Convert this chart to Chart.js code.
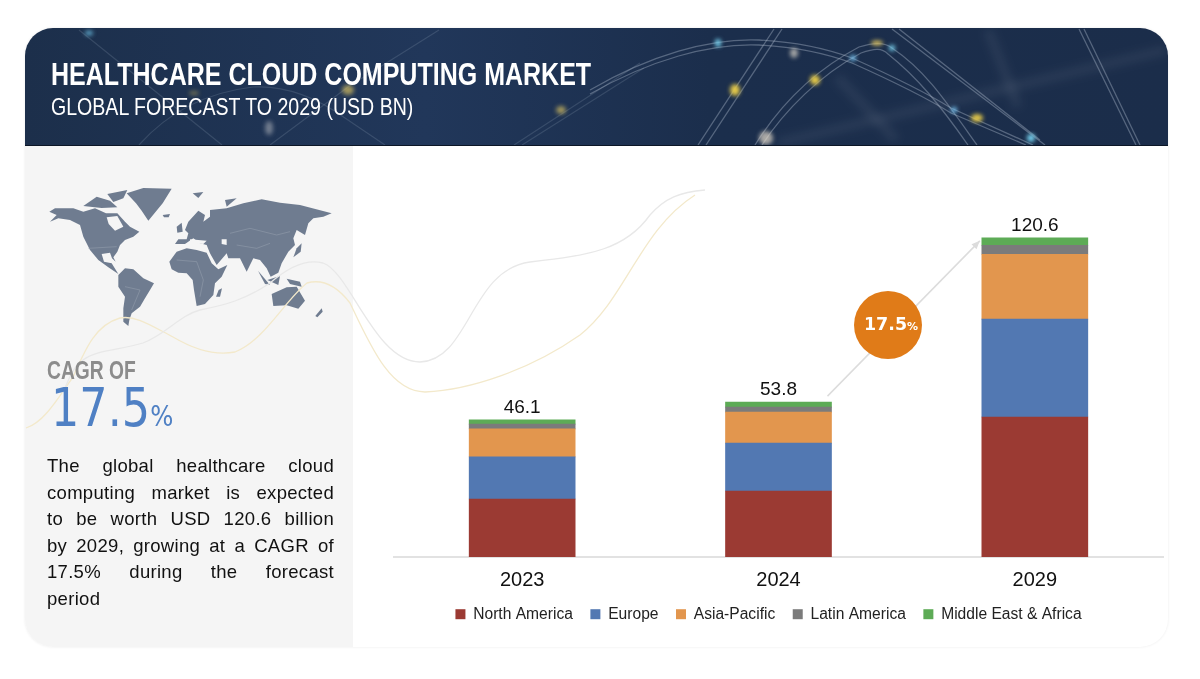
<!DOCTYPE html>
<html>
<head>
<meta charset="utf-8">
<title>Healthcare Cloud Computing Market</title>
<script src="https://cdn.jsdelivr.net/npm/chart.js@4"></script>
<style>
  html, body { margin: 0; padding: 0; background: #fff; }
  #page { position: relative; width: 1200px; height: 679px; overflow: hidden; background: #fff; font-family: "Liberation Sans", Arial, sans-serif; }
  #card { position: absolute; left: 25px; top: 28px; width: 1143px; height: 619px; border-radius: 28px; overflow: hidden; background: #fff; box-shadow: 0 0 3px rgba(0,0,0,0.08); }
  #panel { position: absolute; left: 0; top: 118px; width: 328px; height: 501px; background: #f5f5f5; }
  #head { position: absolute; left: 0; top: 0; width: 1143px; height: 117px; background: linear-gradient(90deg, #1c2f4b 0%, #21375a 35%, #1b2e4c 60%, #1b2d4a 100%); border-bottom: 1px solid #0c1626; }
  #head svg { position: absolute; left: 0; top: 0; }
  .t1 { position: absolute; left: 26px; top: 29px; color: #fff; font: bold 31px "Liberation Sans", sans-serif; white-space: nowrap; transform-origin: left top; transform: scaleX(0.807); }
  .t2 { position: absolute; left: 26px; top: 65px; color: #fff; font: 24px "Liberation Sans", sans-serif; white-space: nowrap; transform-origin: left top; transform: scaleX(0.815); }
  #waves { position: absolute; left: 0; top: 0; }
  #map { position: absolute; left: 30px; top: 180px; }
  #cagr { position: absolute; left: 47px; top: 355px; color: #8c8c8c; font: bold 26px "Liberation Sans", sans-serif; transform-origin: left top; transform: scaleX(0.74); white-space: nowrap; }
  #big { position: absolute; left: 51px; top: 377px; color: #4f80c4; font: 53px "DejaVu Sans", sans-serif; white-space: nowrap; transform-origin: left top; transform: scaleX(0.84); }
  #big span { font-size: 29px; }
  #desc { position: absolute; left: 47px; top: 453px; width: 287px; color: #111; font: 18.5px/26.5px "Liberation Sans", Arial, sans-serif; letter-spacing: 0.3px; }
  #desc div { text-align: justify; text-align-last: justify; white-space: nowrap; }
  #desc div:last-child { text-align-last: left; }
  #chartbox { position: absolute; left: 354px; top: 146px; width: 814px; height: 500px; }
  #bubble { position: absolute; left: 854px; top: 291px; width: 68px; height: 68px; border-radius: 50%; background: #e07b18; color: #fff; font: bold 17.5px/66px "DejaVu Sans", sans-serif; text-align: center; text-indent: 6px; white-space: nowrap; }
  #bubble span { font-size: 11px; }
</style>
</head>
<body>
<div id="page">
  <div id="card">
    <div id="panel"></div>
    <div id="head">
      <svg width="1143" height="117" viewBox="25 28 1143 117">
        <defs>
          <filter id="soft"><feGaussianBlur stdDeviation="2"></feGaussianBlur></filter>
          <filter id="wide"><feGaussianBlur stdDeviation="4"></feGaussianBlur></filter>
        </defs>
        <g fill="none" stroke="#ffffff" stroke-opacity="0.06" stroke-width="10" filter="url(#wide)">
          <path d="M778 143 L1166 50"></path>
          <path d="M988 30 L1018 107"></path>
          <path d="M837 77 L896 140"></path>
        </g>
        <g fill="none" stroke="#aebccd" stroke-opacity="0.4" stroke-width="1.3">
          <path d="M590 90 C650 55 710 38 759 40 C800 42 830 50 852 58 C890 75 930 95 951 108 L1033 145"></path>
          <path d="M590 94 C650 60 710 43 759 45 C800 47 830 55 852 63 C890 80 930 100 951 113 L1026 145"></path>
          <path d="M774 29 L698 145"></path><path d="M782 29 L706 145"></path>
          <path d="M755 145 C780 105 815 70 859 47 C875 42 885 42 892 48 C925 70 945 100 977 145"></path>
          <path d="M762 145 C785 110 820 75 861 53 C875 48 882 48 888 54 C918 78 940 105 968 145"></path>
          <path d="M892 29 L1045 145"></path><path d="M899 29 L1040 140"></path>
          <path d="M1079 29 L1136 145"></path><path d="M1084 29 L1140 145"></path>
        </g>
        <g fill="none" stroke="#aebccd" stroke-opacity="0.18" stroke-width="1.2">
          <path d="M79 30 L222 145"></path>
          <path d="M439 30 L348 87 L270 145"></path>
          <path d="M640 63 L514 145"></path><path d="M644 68 L522 145"></path>
          <path d="M139 145 C170 110 210 92 253 87 C290 85 320 100 345 118 L385 145"></path>
        </g>
        <g filter="url(#soft)">
          <ellipse cx="89" cy="33" rx="4" ry="2.5" fill="#6fc6ea" opacity="0.8"></ellipse>
          <ellipse cx="194" cy="93" rx="5" ry="2" fill="#c9b45a" opacity="0.5"></ellipse>
          <ellipse cx="348" cy="90" rx="6" ry="5" fill="#d9c060" opacity="0.7"></ellipse>
          <ellipse cx="269" cy="128" rx="4" ry="7" fill="#d6d6d6" opacity="0.45"></ellipse>
          <ellipse cx="561" cy="110" rx="5" ry="4" fill="#d9c060" opacity="0.7"></ellipse>
          <ellipse cx="718" cy="43" rx="3" ry="4" fill="#77d2f0"></ellipse>
          <ellipse cx="853" cy="58" rx="3" ry="3" fill="#77c2f0"></ellipse>
          <ellipse cx="892" cy="48" rx="3" ry="3" fill="#77d2f0"></ellipse>
          <ellipse cx="954" cy="110" rx="3" ry="3" fill="#77c2f0"></ellipse>
          <ellipse cx="1031" cy="138" rx="4" ry="4" fill="#77d2f0"></ellipse>
          <ellipse cx="735" cy="90" rx="5" ry="6" fill="#e3c84a"></ellipse>
          <ellipse cx="815" cy="80" rx="5" ry="5" fill="#e3c84a"></ellipse>
          <ellipse cx="877" cy="43" rx="6" ry="2.5" fill="#d9c060"></ellipse>
          <ellipse cx="977" cy="118" rx="6" ry="4" fill="#e3c84a"></ellipse>
          <ellipse cx="794" cy="53" rx="4" ry="5" fill="#e0d8cc" opacity="0.7"></ellipse>
          <ellipse cx="766" cy="138" rx="7" ry="7" fill="#e6dccb" opacity="0.7"></ellipse>
        </g>
      </svg>
      <div class="t1">HEALTHCARE CLOUD COMPUTING MARKET</div>
      <div class="t2">GLOBAL FORECAST TO 2029 (USD BN)</div>
    </div>
  </div>

  <svg id="map" width="320" height="260" viewBox="0 0 960 780">
    <g fill="#6f7c90">
      <path d="M58 95 L75 85 L130 85 L160 95 L195 85 L228 100 L262 100 L285 125 L300 140 L328 155 L310 170 L285 180 L270 195 L262 215 L250 232 L257 245 L246 235 L240 218 L215 222 L222 245 L245 250 L265 282 L235 262 L205 240 L180 210 L160 170 L150 135 L120 120 L85 115 L60 125 L80 105 Z"></path>
      <path d="M160 78 L200 50 L240 62 L262 82 L215 84 Z"></path>
      <path d="M232 42 L292 30 L280 55 L250 66 Z"></path>
      <path d="M290 40 L340 24 L425 26 L398 70 L355 122 L335 92 L318 70 Z"></path>
      <path d="M265 285 L285 265 L310 268 L340 295 L372 310 L360 330 L345 355 L330 380 L305 400 L298 420 L295 438 L280 425 L280 385 L285 350 L265 320 Z"></path>
      <path d="M418 245 L440 215 L470 205 L500 210 L530 218 L545 250 L565 268 L592 255 L575 290 L555 310 L550 345 L525 372 L500 378 L492 330 L488 300 L470 280 L445 278 L425 268 Z"></path>
      <path d="M566 330 L576 325 L570 350 L558 350 Z"></path>
      <path d="M435 192 L445 178 L470 178 L475 160 L465 150 L475 125 L505 92 L525 105 L520 125 L540 110 L540 90 L590 85 L640 70 L695 58 L750 68 L810 75 L905 100 L880 110 L850 115 L835 130 L825 165 L800 150 L790 175 L795 195 L775 215 L755 250 L745 278 L722 290 L710 265 L690 240 L670 235 L650 275 L630 235 L595 235 L590 220 L560 255 L540 220 L530 195 L510 190 L490 175 L465 192 Z"></path>
      <path d="M440 140 L455 128 L458 155 L442 158 Z"></path>
      <path d="M398 105 L420 102 L416 112 L402 112 Z"></path>
      <path d="M488 40 L520 36 L505 54 Z"></path>
      <path d="M800 205 L815 190 L812 215 L790 232 Z"></path>
      <path d="M684 272 L720 315 L705 312 Z"></path>
      <path d="M712 300 L750 288 L745 315 Z"></path>
      <path d="M770 296 L810 305 L815 320 L780 312 Z"></path>
      <path d="M725 342 L770 322 L800 320 L825 362 L805 386 L770 376 L730 378 Z"></path>
      <path d="M856 408 L875 385 L878 395 L862 412 Z"></path>
      <path d="M585 60 L620 55 L590 80 Z"></path>
    </g>
    <path fill="#f5f5f5" d="M230 112 L262 108 L280 140 L255 152 L236 132 Z"></path>
    <path fill="#f5f5f5" d="M480 178 L530 182 L520 192 L480 188 Z"></path>
    <path fill="#f5f5f5" d="M575 178 L590 178 L590 195 L575 192 Z"></path>
    <g fill="none" stroke="#98a2b1" stroke-width="1.5">
      <path d="M600 160 L660 145 L740 165 L780 155"></path>
      <path d="M620 195 L680 205 L720 190"></path>
      <path d="M440 240 L500 245 L520 300 L510 350"></path>
      <path d="M285 320 L330 330 L305 390"></path>
      <path d="M175 205 L260 200"></path>
    </g>
  </svg>

  <svg id="waves" width="1200" height="679" viewBox="0 0 1200 679">
    <path fill="none" stroke="#f3e9cb" stroke-width="1.3" d="M26 428 C45 422 60 395 73 377 C85 350 95 325 120 318 C135 315 150 325 173 337 C195 350 215 356 235 352 C265 340 285 300 307 283 C325 278 340 290 350 303 C370 345 390 392 425 392 C470 390 530 370 580 335 C625 300 640 230 695 195"></path>
    <path fill="none" stroke="#e8e8e8" stroke-width="1.3" d="M63 393 C70 375 75 365 83 360 C95 350 120 350 143 343 C165 335 180 315 200 310 C225 305 245 300 270 283 C285 270 305 258 323 263 C350 272 375 362 420 362 C470 360 470 270 530 262 C590 255 625 250 650 215 C665 198 680 192 705 190"></path>
  </svg>

  <div id="cagr">CAGR OF</div>
  <div id="big">17.5<span>%</span></div>
  <div id="desc">
    <div>The global healthcare cloud</div>
    <div>computing market is expected</div>
    <div>to be worth USD 120.6 billion</div>
    <div>by 2029, growing at a CAGR of</div>
    <div>17.5% during the forecast</div>
    <div>period</div>
  </div>

  <div id="chartbox"><canvas id="chart" width="814" height="500"></canvas></div>
  <div id="bubble">17.5<span>%</span></div>
</div>

<script>
  const years = ["2023", "2024", "2029"];
  // printed totals; the stacks in the picture are not drawn to scale with them
  const totals = ["46.1", "53.8", "120.6"];
  // segment heights, in units of the 2029 stack
  const northAmerica = [21.9, 24.9, 52.9];
  const europe = [15.9, 18.1, 37.0];
  const asiaPacific = [10.6, 11.7, 24.5];
  const latinAmerica = [1.8, 1.9, 3.4];
  const middleEastAfrica = [1.6, 1.9, 2.8];

  // arrow runs from the 2024 stack to the 2029 stack, behind the bubble
  const totalsAndArrow = {
    id: "totalsAndArrow",
    afterLayout(chart) {
      // legend sits left of the plot centre in the reference
      chart.legend.left -= 10;
      chart.legend.right -= 10;
    },
    afterDatasetsDraw(chart) {
      const ctx = chart.ctx;
      const top = chart.getDatasetMeta(4).data;
      ctx.save();
      ctx.fillStyle = "#111";
      ctx.font = "19px 'Liberation Sans', Arial, sans-serif";
      ctx.textAlign = "center";
      ctx.textBaseline = "alphabetic";
      top.forEach((bar, i) => ctx.fillText(totals[i], bar.x, bar.y - 7));

      const x1 = top[1].x + top[1].width / 2 - 4, y1 = top[1].y - 6;
      const x2 = top[2].x - top[2].width / 2 - 2, y2 = top[2].y + 3;
      const a = Math.atan2(y2 - y1, x2 - x1);
      ctx.strokeStyle = "#dcdcdc";
      ctx.fillStyle = "#dcdcdc";
      ctx.lineWidth = 1.5;
      ctx.beginPath();
      ctx.moveTo(x1, y1);
      ctx.lineTo(x2, y2);
      ctx.stroke();
      ctx.beginPath();
      ctx.moveTo(x2, y2);
      ctx.lineTo(x2 - 9 * Math.cos(a - 0.4), y2 - 9 * Math.sin(a - 0.4));
      ctx.lineTo(x2 - 9 * Math.cos(a + 0.4), y2 - 9 * Math.sin(a + 0.4));
      ctx.fill();
      ctx.restore();
    }
  };

  function series(label, data, color) {
    return { label, data, backgroundColor: color, borderWidth: 0, barThickness: 106 };
  }

  new Chart(document.getElementById("chart"), {
    type: "bar",
    data: {
      labels: years,
      datasets: [
        series("North America", northAmerica, "#9b3a33"),
        series("Europe", europe, "#5278b2"),
        series("Asia-Pacific", asiaPacific, "#e2964e"),
        series("Latin America", latinAmerica, "#7b7b7b"),
        series("Middle East & Africa", middleEastAfrica, "#5dab56")
      ]
    },
    plugins: [totalsAndArrow],
    options: {
      responsive: false,
      animation: false,
      layout: { padding: { left: 40, right: 5, top: 67, bottom: 14 } },
      plugins: {
        tooltip: { enabled: false },
        legend: {
          position: "bottom",
          labels: {
            color: "#222",
            font: { size: 15.6, family: "'Liberation Sans', Arial, sans-serif" },
            boxWidth: 10,
            boxHeight: 10,
            padding: 17.5
          }
        }
      },
      scales: {
        x: {
          stacked: true,
          grid: { display: false, drawTicks: false },
          border: { color: "#e2e2e2", width: 2 },
          ticks: { color: "#111", padding: 12, font: { size: 20, family: "'Liberation Sans', Arial, sans-serif" } },
          afterFit(scale) { scale.height -= 16; }
        },
        y: { stacked: true, display: false, min: 0, max: 130 }
      }
    }
  });
</script>
</body>
</html>
